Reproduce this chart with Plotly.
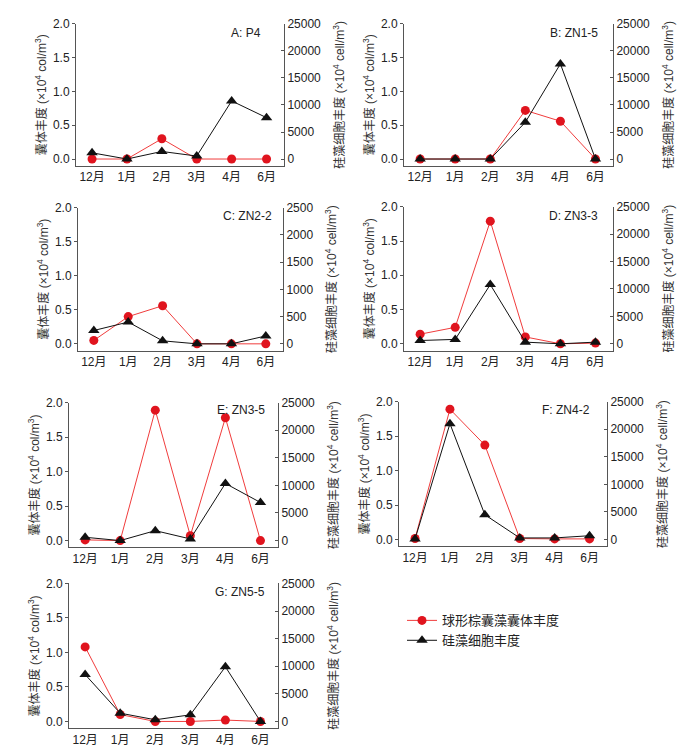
import plotly.graph_objects as go

months = ["12月", "1月", "2月", "3月", "4月", "6月"]
panel_labels = ["A: P4", "B: ZN1-5", "C: ZN2-2", "D: ZN3-3", "E: ZN3-5", "F: ZN4-2", "G: ZN5-5"]

# 球形棕囊藻囊体丰度 (×10^4 col/m^3), left axis
cyst_A = [0.0, 0.0, 0.30, 0.0, 0.0, 0.0]
cyst_B = [0.0, 0.0, 0.0, 0.72, 0.56, 0.0]
cyst_C = [0.05, 0.40, 0.56, 0.0, 0.0, 0.0]
cyst_D = [0.14, 0.24, 1.79, 0.10, 0.0, 0.01]
cyst_E = [0.01, 0.0, 1.89, 0.07, 1.78, 0.0]
cyst_F = [0.015, 1.89, 1.37, 0.015, 0.01, 0.01]
cyst_G = [1.08, 0.10, 0.0, 0.0, 0.02, 0.0]

# 硅藻细胞丰度 (×10^4 cell/m^3), right axis
diatom_A = [1150, 0, 1400, 550, 10750, 7650]
diatom_B = [0, 0, 0, 6800, 17600, 0]
diatom_C = [245, 400, 55, 0, 0, 145]
diatom_D = [600, 800, 10800, 300, 0, 300]
diatom_E = [600, 0, 1800, 300, 10350, 6900]
diatom_F = [100, 21000, 4500, 300, 300, 700]
diatom_G = [8500, 1500, 300, 1200, 9900, 0]

cyst_all = [cyst_A, cyst_B, cyst_C, cyst_D, cyst_E, cyst_F, cyst_G]
diatom_all = [diatom_A, diatom_B, diatom_C, diatom_D, diatom_E, diatom_F, diatom_G]

left_ticks = [0.0, 0.5, 1.0, 1.5, 2.0]
left_ticktext = ["0.0", "0.5", "1.0", "1.5", "2.0"]
right_ticks_big = [0, 5000, 10000, 15000, 20000, 25000]
right_ticks_small = [0, 500, 1000, 1500, 2000, 2500]
right_ticks_all = [right_ticks_big, right_ticks_big, right_ticks_small, right_ticks_big,
                   right_ticks_big, right_ticks_big, right_ticks_big]

OFF = 8
W, H = 681, 747
# pixel boxes in target picture coords: (left, right, top, bottom)
boxes = [
    (76, 284, 24, 166),
    (404, 613, 24, 166),
    (78, 283, 208, 351),
    (404, 613, 207, 351),
    (69, 278, 403, 548),
    (399, 607, 402, 547),
    (69, 278, 584, 729),
]
label_pos = [(263, 33), (600, 33), (274, 216), (600, 216), (267, 410), (592, 410), (267, 593)]

RED_LINE = "#f03c3c"
RED = "#e0141e"
BLACK = "#111111"
AXIS = "#555555"
TXT = "#222222"
FONT = "Liberation Sans, Arial, Noto Sans CJK SC, sans-serif"


def px(x):
    return (x - OFF) / W


def py(y):
    fy = (y - 15.1) / 0.9914
    return 1 - fy / H


fig = go.Figure()
layout = dict(
    width=W, height=H, margin=dict(l=0, r=0, t=0, b=0),
    paper_bgcolor="white", plot_bgcolor="white",
    font=dict(family=FONT, size=12, color=TXT),
    showlegend=True,
    legend=dict(x=px(402), y=py(606), xanchor="left", yanchor="top",
                font=dict(size=13, color=TXT, family=FONT),
                bgcolor="rgba(0,0,0,0)", tracegroupgap=0, itemwidth=30),
)
annotations = []

for i in range(7):
    n = i + 1
    xs = "x" if n == 1 else f"x{n}"
    yl_id = 2 * i + 1
    yr_id = 2 * i + 2
    yl = "y" if yl_id == 1 else f"y{yl_id}"
    yr = f"y{yr_id}"
    l, r, t, b = boxes[i]
    xd = [px(l), px(r)]
    yd = [py(b), py(t)]
    rt = right_ticks_all[i]
    rm = rt[-1]

    fig.add_trace(go.Scatter(
        x=list(range(6)), y=diatom_all[i], xaxis=xs, yaxis=yr,
        mode="lines+markers", name="硅藻细胞丰度", legendrank=2,
        line=dict(color=BLACK, width=1),
        marker=dict(symbol="triangle-up", size=10, color=BLACK),
        showlegend=(i == 0), cliponaxis=False))
    fig.add_trace(go.Scatter(
        x=list(range(6)), y=cyst_all[i], xaxis=xs, yaxis=yl,
        mode="lines+markers", name="球形棕囊藻囊体丰度", legendrank=1,
        line=dict(color=RED_LINE, width=1),
        marker=dict(symbol="circle", size=9, color=RED),
        showlegend=(i == 0), cliponaxis=False))

    xkey = "xaxis" if n == 1 else f"xaxis{n}"
    ylkey = "yaxis" if yl_id == 1 else f"yaxis{yl_id}"
    yrkey = f"yaxis{yr_id}"
    layout[xkey] = dict(
        domain=xd, anchor=yl, range=[-0.46, 5.5],
        tickvals=list(range(6)), ticktext=months,
        showline=True, linecolor=AXIS, linewidth=1,
        ticks="", showgrid=False, zeroline=False, ticklabelstandoff=0,
        tickfont=dict(size=12, color=TXT), fixedrange=True)
    layout[ylkey] = dict(
        domain=yd, anchor=xs, range=[-0.1, 2.0],
        tickvals=left_ticks, ticktext=left_ticktext,
        showline=True, linecolor=AXIS, linewidth=1,
        ticks="outside", ticklen=3, tickcolor=AXIS,
        showgrid=False, zeroline=False,
        tickfont=dict(size=12, color=TXT),
        title=dict(text="囊体丰度 (×10<sup>4</sup> col/m<sup>3</sup>)",
                   font=dict(size=12, color="#333333"), standoff=3))
    layout[yrkey] = dict(
        domain=yd, anchor=xs, overlaying=yl, side="right",
        range=[-rm * 0.05, rm],
        tickvals=rt, ticktext=[str(v) for v in rt],
        showline=True, linecolor=AXIS, linewidth=1,
        ticks="inside", ticklen=3, tickcolor=AXIS,
        showgrid=False, zeroline=False,
        tickfont=dict(size=12, color=TXT),
        title=dict(text="硅藻细胞丰度 (×10<sup>4</sup> cell/m<sup>3</sup>)",
                   font=dict(size=12, color="#333333"), standoff=15))

    lx, ly = label_pos[i]
    annotations.append(dict(
        text=panel_labels[i], x=px(lx), y=py(ly), xref="paper", yref="paper",
        xanchor="right", yanchor="middle", showarrow=False,
        font=dict(size=12, color=TXT)))

layout["annotations"] = annotations
fig.update_layout(**layout)
fig.write_html("out.html")
